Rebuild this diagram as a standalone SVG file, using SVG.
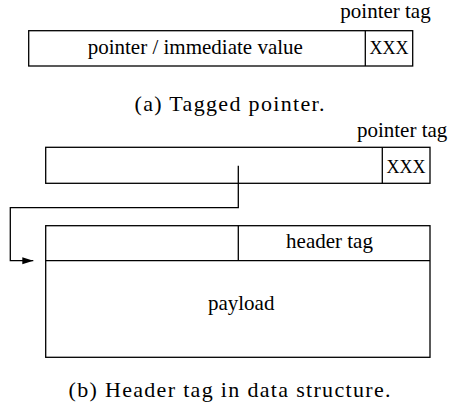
<svg xmlns="http://www.w3.org/2000/svg" width="449" height="403" viewBox="0 0 449 403">
<style>
.box{fill:#fff;stroke:#000;stroke-width:1.3}
.ln{fill:none;stroke:#000;stroke-width:1.3}
.t{font-family:"Liberation Serif","Times New Roman",serif;font-size:21px;fill:#000}
.x{font-family:"Liberation Serif","Times New Roman",serif;font-size:18px;fill:#000;text-anchor:middle}
.c{font-family:"Liberation Serif","Times New Roman",serif;font-size:22px;fill:#000;text-anchor:middle}
.m{text-anchor:middle}
.e{text-anchor:end}
</style>
<defs>
<marker id="arr" markerWidth="12" markerHeight="8" refX="11" refY="3.5" orient="auto" markerUnits="userSpaceOnUse">
<path d="M0,0 L11,3.5 L0,7 Z" fill="#000"/>
</marker>
</defs>
<g id="tagged-pointer">
<rect class="box" x="28.7" y="30.7" width="384" height="35.3"/>
<line class="ln" x1="365.3" y1="30.7" x2="365.3" y2="66"/>
<text class="t m" x="195.3" y="54.3">pointer / immediate value</text>
<text class="x" x="389" y="54.3">XXX</text>
<text class="t e" x="430.7" y="17.5">pointer tag</text>
</g>
<text id="caption-a" class="c" x="229.5" y="110.5" textLength="190" lengthAdjust="spacing">(a) Tagged pointer.</text>
<g id="pointer-word">
<rect class="box" x="45.7" y="147.3" width="384.3" height="36"/>
<line class="ln" x1="382.3" y1="147.3" x2="382.3" y2="183.3"/>
<text class="x" x="406" y="173.3">XXX</text>
<text class="t e" x="447.3" y="137.3">pointer tag</text>
</g>
<g id="data-structure">
<rect class="box" x="45.7" y="225.7" width="384.3" height="131.6"/>
<line class="ln" x1="45.7" y1="260.7" x2="430" y2="260.7"/>
<line class="ln" x1="238.3" y1="225.7" x2="238.3" y2="260.7"/>
<text class="t m" x="329.5" y="248.3">header tag</text>
<text class="t m" x="241.2" y="309.5">payload</text>
</g>
<g id="connectors">
<path class="ln" d="M238.3,165.7 V207.7 H10.3 V260.7 H33.3" marker-end="url(#arr)"/>
</g>
<text id="caption-b" class="c" x="229.5" y="397" textLength="322" lengthAdjust="spacing">(b) Header tag in data structure.</text>
</svg>
